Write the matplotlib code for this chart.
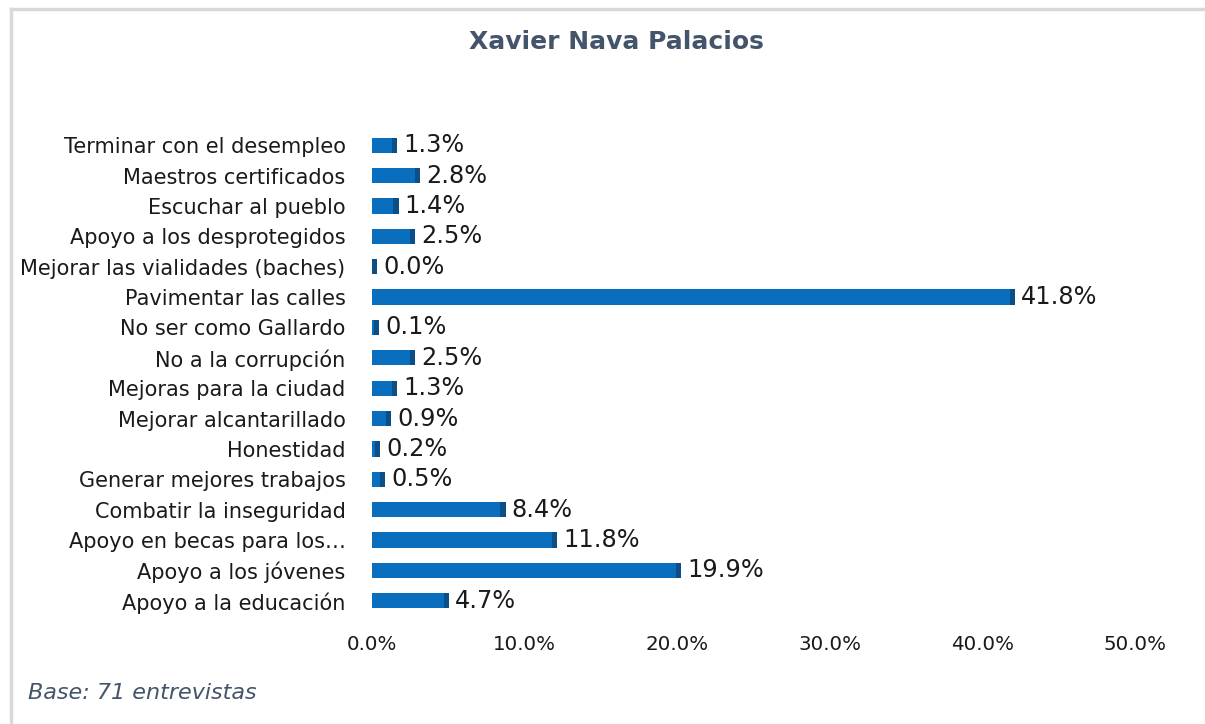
import matplotlib.pyplot as plt
from matplotlib.lines import Line2D
import numpy as np

categories = [
    "Apoyo a la educación",
    "Apoyo a los jóvenes",
    "Apoyo en becas para los…",
    "Combatir la inseguridad",
    "Generar mejores trabajos",
    "Honestidad",
    "Mejorar alcantarillado",
    "Mejoras para la ciudad",
    "No a la corrupción",
    "No ser como Gallardo",
    "Pavimentar las calles",
    "Mejorar las vialidades (baches)",
    "Apoyo a los desprotegidos",
    "Escuchar al pueblo",
    "Maestros certificados",
    "Terminar con el desempleo",
]
values = [4.7, 19.9, 11.8, 8.4, 0.5, 0.2, 0.9, 1.3, 2.5, 0.1, 41.8, 0.0, 2.5, 1.4, 2.8, 1.3]
xticks = [0, 10, 20, 30, 40, 50]

title_color = "#44546A"
bar_color = "#0A6EBE"
side_color = "#0B4F86"

plt.rcParams["font.family"] = "DejaVu Sans"

fig = plt.figure(figsize=(12.05, 7.24), dpi=100)
ax = fig.add_axes([372 / 1205, 108 / 724, 763 / 1205, 486 / 724])

y = np.arange(len(categories))
ax.barh(y, values, height=0.5, color=bar_color, edgecolor="none")
# darker right face to mimic the 3D look
ax.barh(y, [0.35] * len(values), left=values, height=0.5,
        color=side_color, edgecolor="none")

for yi, v in zip(y, values):
    ax.text(v + 0.75, yi, f"{v:.1f}%", va="center", ha="left",
            fontsize=17.3, color="#1a1a1a")

ax.set_xlim(0, 50)
ax.set_ylim(-0.5, len(categories) - 0.5)
ax.set_xticks(xticks)
ax.set_xticklabels([f"{t:.1f}%" for t in xticks], fontsize=14.3, color="#1a1a1a")
ax.set_yticks(y)
ax.set_yticklabels(categories, fontsize=15, color="#1a1a1a")
ax.tick_params(axis="both", length=0)
ax.tick_params(axis="x", pad=14)
ax.tick_params(axis="y", pad=19)
for s in ax.spines.values():
    s.set_visible(False)

fig.text(616 / 1205, 1 - 42 / 724, "Xavier Nava Palacios", ha="center", va="center",
         fontsize=18, fontweight="bold", color=title_color)
fig.text(28 / 1205, 1 - 693 / 724, "Base: 71 entrevistas", ha="left", va="center",
         fontsize=16, style="italic", color=title_color)

# light frame around the chart area
fig.add_artist(Line2D([10.5 / 1205, 1], [1 - 8.5 / 724] * 2, color="#d9d9d9", lw=2.5))
fig.add_artist(Line2D([10.5 / 1205] * 2, [0, 1 - 8.5 / 724], color="#d9d9d9", lw=2.5))

fig.savefig("out.png", dpi=100)
